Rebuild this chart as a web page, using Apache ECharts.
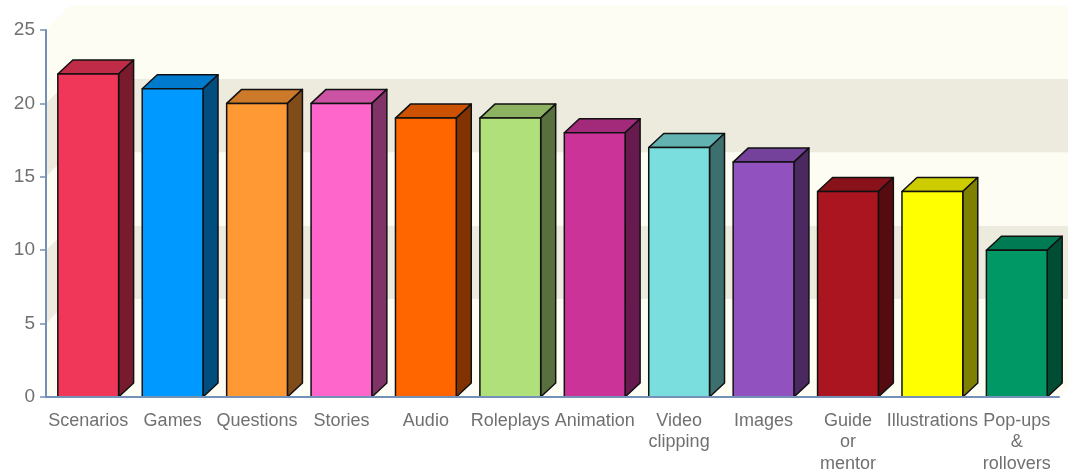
<!DOCTYPE html>
<html><head><meta charset="utf-8">
<script src="https://cdn.jsdelivr.net/npm/echarts@6/dist/echarts.min.js"></script>
<style>html,body{margin:0;padding:0;background:#fff}#c{width:1068px;height:472px}</style>
</head><body><div id="c"></div>
<script>
const categories = ['Scenarios','Games','Questions','Stories','Audio','Roleplays','Animation','Video\nclipping','Images','Guide\nor\nmentor','Illustrations','Pop-ups\n&\nrollovers'];
const values = [22,21,20,20,19,19,18,17,16,14,14,10];
const barColors = ['#f0375a','#0099ff','#ff9933','#ff66cc','#ff6600','#b0e07a','#cc3399','#7adede','#9152c0','#aa1520','#ffff00','#009966'];
const yTicks = [0,5,10,15,20,25];
const wallBands = [[0,5],[5,10],[10,15],[15,20],[20,25]];

const CREAM = '#fdfdf3', GRAY = '#ecebdd';
const WX = 24, WY = 24.5;   // back wall depth (px)
const DX = 15, DY = 14;     // bar depth (px)
const AXIS = '#7391b8', TXT = '#707070', FONT = '"Liberation Sans", Arial, sans-serif';

function shade(hex, f){
  const n = parseInt(hex.slice(1),16);
  const r = Math.round(((n>>16)&255)*f), g = Math.round(((n>>8)&255)*f), b = Math.round((n&255)*f);
  return 'rgb('+r+','+g+','+b+')';
}

const chart = echarts.init(document.getElementById('c'));
chart.setOption({
  backgroundColor:'#ffffff',
  animation:false,
  grid:{left:46,right:9,top:30,bottom:75,containLabel:false,outerBoundsMode:'none'},
  xAxis:{type:'category',data:categories,z:10,
    axisLine:{lineStyle:{color:AXIS,width:2}},
    axisTick:{alignWithLabel:true,length:6,lineStyle:{color:AXIS,width:1.5}},
    axisLabel:{interval:0,color:TXT,fontSize:18,lineHeight:21.5,margin:13,fontFamily:FONT},
    splitLine:{show:false}},
  yAxis:{type:'value',min:yTicks[0],max:yTicks[yTicks.length-1],interval:5,z:10,
    axisLine:{show:true,lineStyle:{color:AXIS,width:2}},
    axisTick:{show:true,length:6,lineStyle:{color:AXIS,width:1.5}},
    axisLabel:{color:TXT,fontSize:19,margin:11,fontFamily:FONT},
    splitLine:{show:false}},
  series:[
    {type:'custom',z:1,silent:true,
     data:wallBands.map((b,i)=>[0,b[0],b[1]]),
     encode:{x:0,y:[1,2]},
     renderItem:function(params,api){
       const cs = params.coordSys;
       const idx = params.dataIndex;
       const y1 = api.coord([0,api.value(1)])[1], y2 = api.coord([0,api.value(2)])[1];
       const L = cs.x, R = cs.x+cs.width;
       const fill = idx%2===0 ? CREAM : GRAY;
       const ch = [
         {type:'polygon',shape:{points:[[L,y1],[L+WX,y1-WY],[L+WX,y2-WY],[L,y2]]},style:{fill:fill}},
         {type:'rect',shape:{x:L+WX,y:y2-WY,width:R-L,height:y1-y2},style:{fill:fill}}
       ];
       if(idx===0){
         ch.push({type:'polygon',shape:{points:[[L,y1],[L+WX,y1-WY],[R+WX,y1-WY],[R,y1]]},style:{fill:CREAM}});
       }
       return {type:'group',children:ch};
     }},
    {type:'custom',z:3,
     data:values.map((v,i)=>[i,v]),
     encode:{x:0,y:1},
     renderItem:function(params,api){
       const i = api.value(0), v = api.value(1);
       const c = api.coord([i,v]), b = api.coord([i,0]);
       const bw = api.size([1,0])[0]*0.72;
       const x0 = c[0]-bw/2, x1 = c[0]+bw/2, yt = c[1], yb = b[1];
       const col = barColors[params.dataIndex];
       const st = {stroke:'#111',lineWidth:1.5,lineJoin:'round'};
       return {type:'group',children:[
         {type:'polygon',shape:{points:[[x0,yt],[x0+DX,yt-DY],[x1+DX,yt-DY],[x1,yt]]},style:Object.assign({fill:shade(col,0.8)},st)},
         {type:'polygon',shape:{points:[[x1,yt],[x1+DX,yt-DY],[x1+DX,yb-DY],[x1,yb]]},style:Object.assign({fill:shade(col,0.5)},st)},
         {type:'rect',shape:{x:x0,y:yt,width:bw,height:yb-yt},style:Object.assign({fill:col},st)}
       ]};
     }}
  ]
});
</script>
</body></html>
